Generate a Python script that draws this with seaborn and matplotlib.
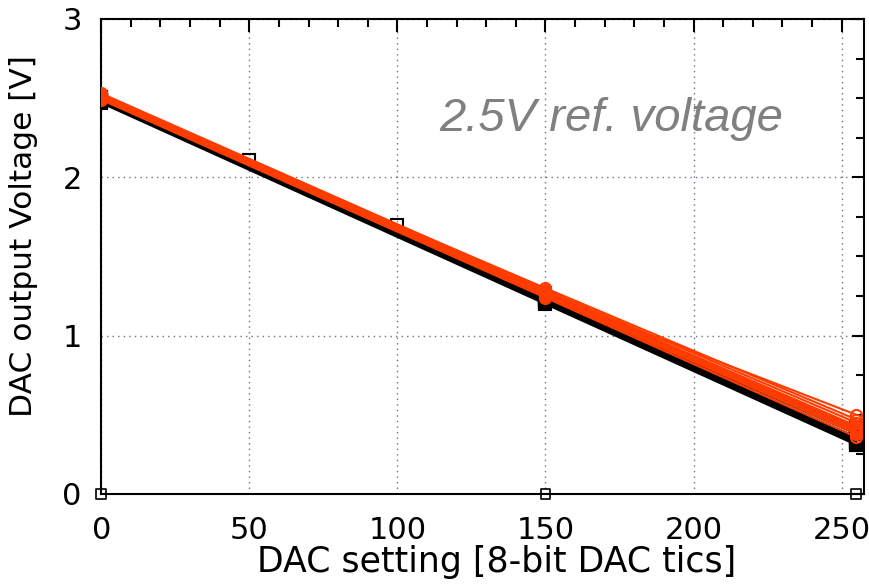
import numpy as np
import pandas as pd
import matplotlib
matplotlib.use("Agg")
import matplotlib.pyplot as plt
import seaborn as sns
from matplotlib.ticker import MultipleLocator

# DAC settings measured
dac_points = [0, 150, 255]
ref_dac = [0, 50, 100, 150, 255]

# black boards
black_v0 = [2.47, 2.48, 2.48, 2.49, 2.49, 2.50, 2.50, 2.51, 2.48, 2.49]
black_v150 = [1.20, 1.21, 1.21, 1.22, 1.22, 1.23, 1.24, 1.25, 1.22, 1.23]
black_v255 = [0.31, 0.32, 0.33, 0.34, 0.35, 0.36, 0.38, 0.40, 0.42, 0.33]

# red boards
red_v0 = [2.49, 2.50, 2.50, 2.51, 2.51, 2.52, 2.52, 2.53, 2.50, 2.51]
red_v150 = [1.24, 1.25, 1.25, 1.26, 1.27, 1.27, 1.28, 1.29, 1.30, 1.26]
red_v255 = [0.36, 0.38, 0.39, 0.40, 0.41, 0.42, 0.43, 0.45, 0.47, 0.50]

# single fine scan and the zero reading
ref_volt = [2.50, 2.11, 1.70, 1.27, 0.31]
zero_volt = [0.0, 0.0, 0.0]

RED = "#ff3c00"

def to_long(v0, v150, v255, group):
    rows = []
    for i, vals in enumerate(zip(v0, v150, v255)):
        for x, y in zip(dac_points, vals):
            rows.append({"dac": x, "volt": y, "board": f"{group}{i}", "group": group})
    return pd.DataFrame(rows)

black_df = to_long(black_v0, black_v150, black_v255, "black")
red_df = to_long(red_v0, red_v150, red_v255, "red")
ref_df = pd.DataFrame({"dac": ref_dac, "volt": ref_volt})
zero_df = pd.DataFrame({"dac": dac_points, "volt": zero_volt})

sns.set_style("white")
plt.rcParams["font.family"] = ["DejaVu Sans"]
plt.rcParams["text.color"] = "black"
plt.rcParams["axes.labelcolor"] = "black"
plt.rcParams["xtick.color"] = "black"
plt.rcParams["ytick.color"] = "black"

fig = plt.figure(figsize=(8.69, 5.88), dpi=100)
ax = fig.add_axes([0.1165, 0.1599, 0.994 - 0.1165, 0.9677 - 0.1599])

# zero reading and fine scan
sns.scatterplot(data=zero_df, x="dac", y="volt", marker="s", s=50,
                facecolor="none", edgecolor="black", linewidth=1.2,
                ax=ax, clip_on=False, zorder=5)
sns.lineplot(data=ref_df, x="dac", y="volt", color="black", lw=1.2,
             marker="s", markersize=8, markerfacecolor="none",
             markeredgecolor="black", markeredgewidth=1.5, ax=ax, zorder=3)

# boards
sns.lineplot(data=black_df, x="dac", y="volt", units="board", estimator=None,
             color="black", lw=1.5, marker="s", markersize=8,
             markerfacecolor="none", markeredgecolor="black",
             markeredgewidth=1.5, ax=ax, zorder=3)
sns.lineplot(data=red_df, x="dac", y="volt", units="board", estimator=None,
             color=RED, lw=1.5, marker="o", markersize=8,
             markerfacecolor="none", markeredgecolor=RED,
             markeredgewidth=1.5, ax=ax, zorder=4)

ax.set_xlim(0, 257.5)
ax.set_ylim(0, 3)
ax.xaxis.set_major_locator(MultipleLocator(50))
ax.xaxis.set_minor_locator(MultipleLocator(10))
ax.yaxis.set_major_locator(MultipleLocator(1))
ax.yaxis.set_minor_locator(MultipleLocator(0.25))

ax.grid(True, which="major", color="#707080", linestyle=(0, (1, 3)), lw=1.0)
ax.tick_params(which="both", direction="in", top=True, right=True,
               color="black", width=1.5)
ax.tick_params(which="major", length=9, labelsize=22)
ax.tick_params(axis="x", which="major", pad=16)
ax.tick_params(axis="y", which="major", pad=14)
ax.tick_params(which="minor", length=6)
for sp in ax.spines.values():
    sp.set_linewidth(1.5)
    sp.set_color("black")

ax.set_xlabel("DAC setting [8-bit DAC tics]", fontsize=25)
ax.set_ylabel("DAC output Voltage [V]", fontsize=22.5)
ax.xaxis.set_label_coords(0.519, -0.108)
ax.yaxis.set_label_coords(-0.083, 0.543)

ax.text(114, 2.37, "2.5V ref. voltage", fontsize=34, style="italic",
        color="#808080", ha="left", va="center",
        family=["Liberation Sans", "DejaVu Sans"])

fig.savefig("out.png", dpi=100)
